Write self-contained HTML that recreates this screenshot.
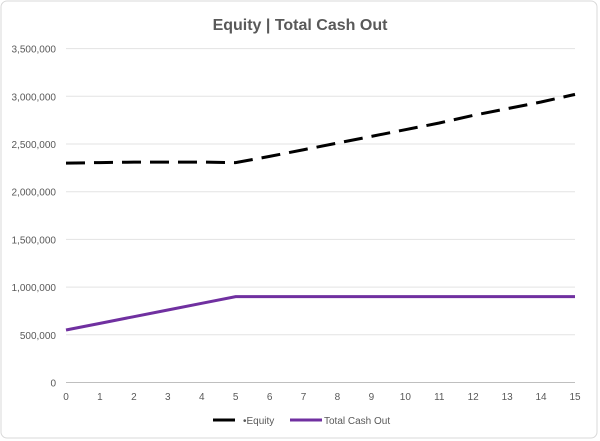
<!DOCTYPE html>
<html><head><meta charset="utf-8"><style>
body{margin:0;background:#fff;}
svg{display:block;font-family:"Liberation Sans",sans-serif;}
</style></head><body>
<svg id="chart" width="600" height="441">
<rect x="1" y="1" width="596" height="437" rx="6" fill="#fff" stroke="#d9d9d9"/>
<text x="300" y="30" text-anchor="middle" font-size="16" font-weight="bold" fill="#595959">Equity | Total Cash Out</text>
<g id="grid"></g><g id="series"></g>
<g>
<line x1="213" y1="420" x2="235" y2="420" stroke="#000" stroke-width="3"/>
<text x="243" y="424" font-size="10" fill="#595959">•Equity</text>
<line x1="290" y1="420" x2="322" y2="420" stroke="#7030a0" stroke-width="3"/>
<text x="324" y="424" font-size="10" fill="#595959">Total Cash Out</text>
</g>
</svg>
<script>
const years=[0,1,2,3,4,5,6,7,8,9,10,11,12,13,14,15];
const equity=[2300000,2305000,2310000,2310000,2310000,2305000,2370000,2440000,2510000,2580000,2650000,2720000,2800000,2870000,2940000,3020000];
const cashOut=[550000,620000,690000,760000,830000,900000,900000,900000,900000,900000,900000,900000,900000,900000,900000,900000];
const yTicks=[0,500000,1000000,1500000,2000000,2500000,3000000,3500000];
const NS="http://www.w3.org/2000/svg";
const x=v=>66+v*(575-66)/15;
const y=v=>382.5-v*(382.5-48.6)/3500000;
const grid=document.getElementById('grid'),ser=document.getElementById('series');
yTicks.forEach(t=>{
 const l=document.createElementNS(NS,'line');
 l.setAttribute('x1',66);l.setAttribute('x2',575);l.setAttribute('y1',y(t));l.setAttribute('y2',y(t));
 l.setAttribute('stroke',t===0?'#bfbfbf':'#e3e3e3');
 
 
 grid.appendChild(l);
 const tx=document.createElementNS(NS,'text');
 tx.setAttribute('x',56);tx.setAttribute('y',y(t)+4);tx.setAttribute('text-anchor','end');
 tx.setAttribute('font-size','10');tx.setAttribute('fill','#595959');
 tx.textContent=t.toLocaleString('en-US');
 
 
 grid.appendChild(tx);
});
years.forEach(v=>{
 const tx=document.createElementNS(NS,'text');
 tx.setAttribute('x',x(v));tx.setAttribute('y',400);tx.setAttribute('text-anchor','middle');
 tx.setAttribute('font-size','10');tx.setAttribute('fill','#595959');
 tx.textContent=v;
 
 
 grid.appendChild(tx);
});
function line(vals,color,dash,name){
 const p=document.createElementNS(NS,'polyline');
 p.setAttribute('points',vals.map((v,i)=>x(years[i])+','+y(v)).join(' '));
 p.setAttribute('fill','none');p.setAttribute('stroke',color);p.setAttribute('stroke-width','3');
 if(dash)p.setAttribute('stroke-dasharray',dash);
 
 
 ser.appendChild(p);
}
line(cashOut,'#7030a0',null,'total-cash-out-line');
line(equity,'#000','19,9','equity-line');
</script>
</body></html>
